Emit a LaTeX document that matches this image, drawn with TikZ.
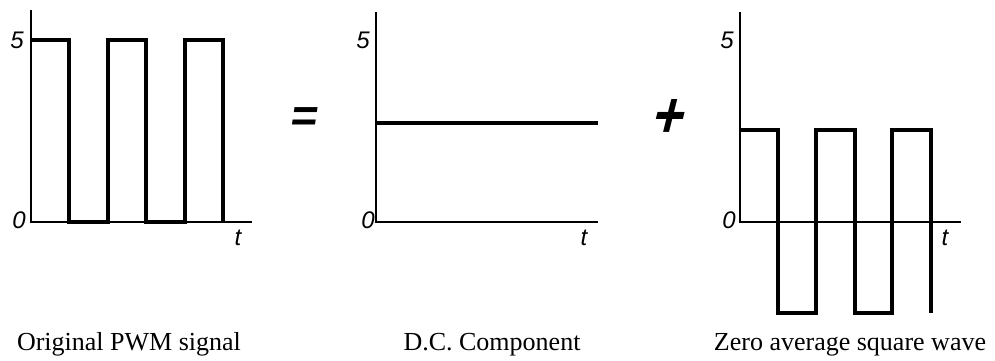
\documentclass[tikz,border=0pt]{standalone}
\usepackage{fontspec}
\setmainfont{Liberation Serif}
\setsansfont{Liberation Sans}

\begin{document}
\begin{tikzpicture}[
	x=1pt, y=-1pt,
	axis/.style={ line width=1.2pt },
	wave/.style={ line width=3.6pt },
	axlabel/.style={ inner sep=0pt, font=\sffamily\itshape\fontsize{24}{28}\selectfont },
	caption/.style={ anchor=base, inner sep=0pt, font=\fontsize{26}{30}\selectfont },
	sign/.style={ inner sep=0pt, xslant=0.25, font=\sffamily\bfseries\fontsize{46}{50}\selectfont }
]
\useasboundingbox (0,0) rectangle (995,360);

% PWM signal
\coordinate (o1) at (31,222);
\draw[axis] (31,10) -- (o1) -- (252,222);
\draw[wave] (31,40) -- (69,40) -- (69,222) -- (108,222) -- (108,40)
  -- (146,40) -- (146,222) -- (185,222) -- (185,40) -- (223,40) -- (223,222);
\node (f1) at (17,40) [axlabel] {5};
\node (z1) at (19,220) [axlabel] {0};
\node (t1) at (238,238) [axlabel] {t};
\node (c1) at (129,350) [caption] {Original PWM signal};

\node (eq) at (305,120) [sign, xslant=-0.1] {=};

% DC component
\coordinate (o2) at (376,222);
\draw[axis] (376,12) -- (o2) -- (598,222);
\draw[wave] (376,123) -- (598,123);
\node (f2) at (363,40) [axlabel] {5};
\node (z2) at (368,220) [axlabel] {0};
\node (t2) at (584,238) [axlabel] {t};
\node (c2) at (492,350) [caption] {D.C. Component};

\node (pl) at (670,118) [sign, yscale=1.2, font=\sffamily\bfseries\fontsize{54}{58}\selectfont] {+};

% zero average square wave
\coordinate (o3) at (740,222);
\draw[axis] (740,12) -- (o3) -- (961,222);
\draw[wave] (740,130) -- (778,130) -- (778,313) -- (816,313) -- (816,130)
  -- (855,130) -- (855,313) -- (892,313) -- (892,130) -- (931,130) -- (931,313);
\node (f3) at (727,40) [axlabel] {5};
\node (z3) at (729,220) [axlabel] {0};
\node (t3) at (945,238) [axlabel] {t};
\node (c3) at (850,350) [caption] {Zero average square wave};

\end{tikzpicture}
\end{document}
